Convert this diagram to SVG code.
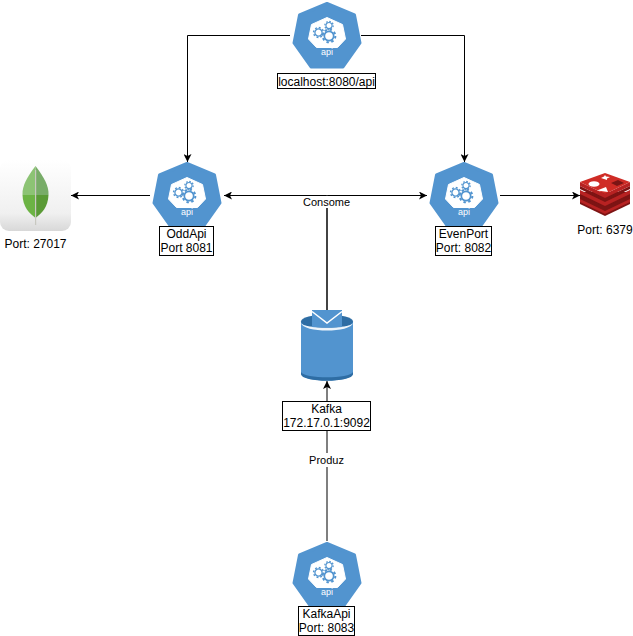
<svg xmlns="http://www.w3.org/2000/svg" xmlns:xlink="http://www.w3.org/1999/xlink" width="633" height="636" viewBox="0 0 633 636">
<style>
text{font-family:"Liberation Sans",Arial,sans-serif;font-size:12px;fill:#000;text-anchor:middle}
.e{fill:none;stroke:#000;stroke-width:1}
.heavy{stroke:#222;stroke-width:1.7}
.grey{stroke:#555;stroke-width:1.5}
.box{fill:#fff;stroke:#000;stroke-width:1}
.api{font-size:9px;fill:#fff}
.edge-label{font-size:11px}
.hep{fill:#5294cf;stroke:#5294cf;stroke-width:3;stroke-linejoin:round}
</style>
<defs>
<marker id="arr" markerUnits="userSpaceOnUse" markerWidth="9" markerHeight="8" refX="8" refY="4" orient="auto-start-reverse"><path d="M0 0L8 4L0 8L2 4Z" fill="#000"/></marker>
<g id="gear"><circle r="3.6" fill="none" stroke="#5294cf" stroke-width="1.3"/><circle r="4.9" fill="none" stroke="#5294cf" stroke-width="1.5" stroke-dasharray="1.9 1.9"/></g>
<g id="icon">
<polygon class="hep" points="0,-32.5 27.500,-21 33,7 16,31 -16,31 -33,7 -27.500,-21"/>
<polygon points="0,-18.500 15.500,-11.500 18.500,3 10.500,11.500 -10.500,11.500 -18.500,3 -15.500,-11.500" fill="#fff" stroke="#fff" stroke-linejoin="round"/>
<use xlink:href="#gear" transform="translate(-8.500,-3.500)"/>
<use xlink:href="#gear" transform="translate(2,-10.500) scale(.85)"/>
<use xlink:href="#gear" transform="translate(2,0) scale(1.3)"/>
</g>
<linearGradient id="mg" x1="0" y1="0" x2="0" y2="1"><stop offset="0" stop-color="#fff"/><stop offset=".75" stop-color="#f0f0f0"/><stop offset="1" stop-color="#d8d8d8"/></linearGradient>
</defs>
<g id="connectors">
<path class="e" d="M290 35.500H187.500V162" marker-end="url(#arr)"/>
<path class="e" d="M361 35.500H464.500V162" marker-end="url(#arr)"/>
<path class="e" d="M150 195.500H71" marker-end="url(#arr)"/>
<path class="e" d="M224 195.500H427" marker-start="url(#arr)" marker-end="url(#arr)"/>
<path class="e" d="M500 195.500H580" marker-end="url(#arr)"/>
<path class="e heavy" d="M327 195V311"/>
<path class="e grey" d="M327 541V381" marker-end="url(#arr)"/>
<rect x="302" y="196" width="50" height="12" fill="#fff"/>
<text class="edge-label" x="326.500" y="206">Consome</text>
<rect x="308" y="453" width="37" height="14" fill="#fff"/>
<text class="edge-label" x="326.500" y="464">Produz</text>
</g>
<g id="gateway">
<use xlink:href="#icon" x="327" y="36"/>
<text class="api" x="327" y="55">api</text>
<rect class="box" x="277.500" y="73.500" width="98" height="15"/>
<text x="326.500" y="85.500">localhost:8080/api</text>
</g>
<g id="mongo">
<rect x="0" y="160" width="71" height="71" rx="9" fill="url(#mg)"/>
<path d="M35.500 166C27 177 22 186 22.500 195H35.500Z" fill="#8cc374"/>
<path d="M35.500 166C44 177 49 186 48.500 195H35.500Z" fill="#78ac68"/>
<path d="M22.500 195C23 207 29 213 35.500 218V195Z" fill="#6cb344"/>
<path d="M48.500 195C48 207 42 213 35.500 218V195Z" fill="#5a9a36"/>
<rect x="35" y="170" width="1.200" height="55" fill="#c8c8c0"/>
<text x="35.500" y="248">Port: 27017</text>
</g>
<g id="oddapi">
<use xlink:href="#icon" x="187" y="196"/>
<text class="api" x="187" y="215">api</text>
<rect class="box" x="159.500" y="226.500" width="54" height="29"/>
<text x="186.500" y="238">OddApi</text>
<text x="186.500" y="252">Port 8081</text>
</g>
<g id="evenport">
<use xlink:href="#icon" x="464" y="196"/>
<text class="api" x="464" y="215">api</text>
<rect class="box" x="435.500" y="226.500" width="56" height="29"/>
<text x="463.500" y="238">EvenPort</text>
<text x="463.500" y="252">Port: 8082</text>
</g>
<g id="redis">
<path d="M580 192V204L605 216L630 204V192Z" fill="#7d1414"/>
<path d="M580 199V202L605 214L630 202V199L605 211Z" fill="#b72222"/>
<path d="M580 192V195L605 207L630 195V192L605 204Z" fill="#7d1414"/>
<path d="M580 190V194L605 206L630 194V190L605 202Z" fill="#b72222"/>
<path d="M580 186V189L605 201L630 189V186L605 198Z" fill="#7d1414"/>
<path d="M580 182V186L605 198L630 186V182L605 194Z" fill="#b72222"/>
<path d="M580 182L605 173L630 182L605 194Z" fill="#cf2c26"/>
<ellipse cx="594" cy="184" rx="5.500" ry="2.800" fill="#fff"/>
<path d="M601 178L604 176.500L605 175L606 176.500L610 177L607 178.500L607 180L604 179Z" fill="#fff"/>
<path d="M597 190.500L606 187L608 192Z" fill="#fff"/>
<path d="M611 183L618 180L624 183L617 186Z" fill="#7a1515"/>
<text x="605" y="234">Port: 6379</text>
</g>
<g id="kafka">
<path d="M301 322V373C301 383 353 383 353 373V322Z" fill="#5294cf"/>
<path d="M301 372C304 379 350 379 353 372V374C353 383 301 383 301 374Z" fill="#2e6da4"/>
<ellipse cx="327" cy="321.500" rx="26" ry="7" fill="#2e6da4"/>
<path d="M301 323C303 329 351 329 353 323C351 333 303 333 301 323Z" fill="#fff" opacity=".9"/>
<path d="M312 310H342V327C335 328 319 328 312 327Z" fill="#5294cf"/>
<path d="M312 311.500L327 323L342 311.500" fill="none" stroke="#fff" stroke-width="1.500"/>
<rect class="box" x="282.500" y="401.500" width="88" height="29"/>
<text x="326.500" y="413">Kafka</text>
<text x="326.500" y="427">172.17.0.1:9092</text>
</g>
<g id="kafkaapi">
<use xlink:href="#icon" x="327" y="576"/>
<text class="api" x="327" y="595">api</text>
<rect class="box" x="298.500" y="606.500" width="56" height="29"/>
<text x="326.500" y="618">KafkaApi</text>
<text x="326.500" y="632">Port: 8083</text>
</g>
</svg>
